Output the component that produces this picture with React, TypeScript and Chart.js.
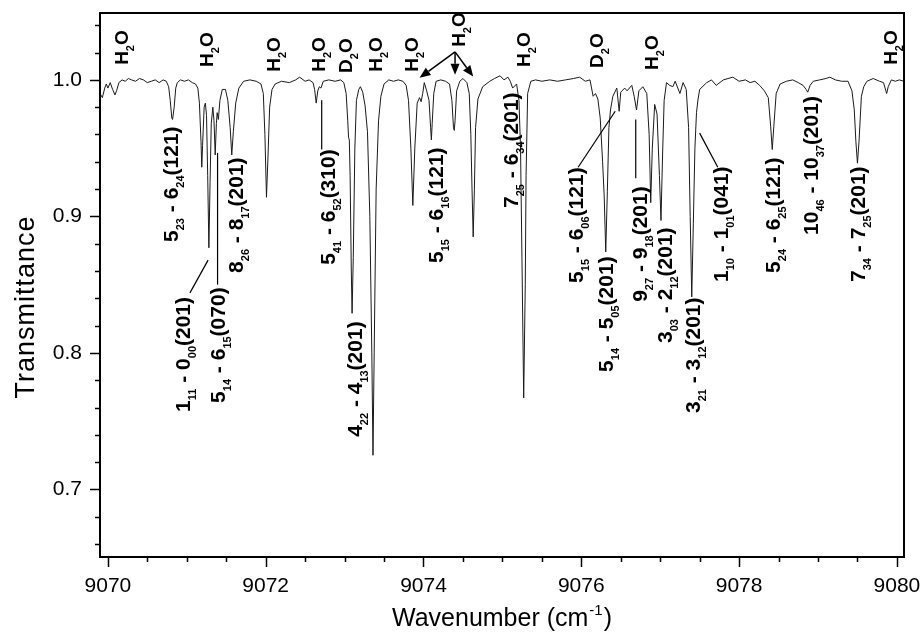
import React, { useEffect, useRef } from "react";
import { Chart, registerables } from "chart.js";

Chart.register(...registerables);

// ---------------- data ----------------
const wavenumber: number[] = [
  9069.90, 9069.93, 9069.96, 9069.98, 9070.00, 9070.03, 9070.06, 9070.09, 9070.11, 9070.14,
  9070.18, 9070.22, 9070.26, 9070.30, 9070.35, 9070.40, 9070.45, 9070.50, 9070.55, 9070.60,
  9070.65, 9070.70, 9070.74, 9070.77, 9070.79, 9070.81, 9070.82, 9070.84, 9070.86, 9070.88,
  9070.92, 9070.97, 9071.02, 9071.07, 9071.11, 9071.14, 9071.16, 9071.18, 9071.19, 9071.20,
  9071.22, 9071.235, 9071.25, 9071.265, 9071.28, 9071.295, 9071.31, 9071.33, 9071.345, 9071.36,
  9071.375, 9071.385, 9071.40, 9071.42, 9071.45, 9071.49, 9071.52, 9071.55, 9071.57, 9071.59,
  9071.62, 9071.66, 9071.72, 9071.80, 9071.88, 9071.94, 9071.97, 9071.99, 9072.01, 9072.03,
  9072.05, 9072.08, 9072.12, 9072.20, 9072.30, 9072.38, 9072.43, 9072.50, 9072.55, 9072.60,
  9072.62, 9072.64, 9072.66, 9072.68, 9072.70, 9072.73, 9072.80, 9072.88, 9072.95, 9072.99,
  9073.02, 9073.04, 9073.05, 9073.06, 9073.07, 9073.085, 9073.095, 9073.11, 9073.13, 9073.15,
  9073.18, 9073.20, 9073.23, 9073.26, 9073.29, 9073.32, 9073.345, 9073.36, 9073.375, 9073.40,
  9073.43, 9073.46, 9073.50, 9073.56, 9073.62, 9073.68, 9073.74, 9073.78, 9073.81, 9073.84,
  9073.865, 9073.89, 9073.92, 9073.95, 9073.97, 9073.99, 9074.01, 9074.04, 9074.07, 9074.09,
  9074.10, 9074.11, 9074.13, 9074.16, 9074.22, 9074.28, 9074.33, 9074.36, 9074.38, 9074.39,
  9074.40, 9074.42, 9074.46, 9074.50, 9074.55, 9074.58, 9074.60, 9074.615, 9074.63, 9074.645,
  9074.66, 9074.69, 9074.75, 9074.84, 9074.90, 9074.97, 9075.02, 9075.07, 9075.10, 9075.13,
  9075.18, 9075.21, 9075.23, 9075.25, 9075.27, 9075.29, 9075.30, 9075.32, 9075.36, 9075.42,
  9075.50, 9075.60, 9075.70, 9075.80, 9075.90, 9075.98, 9076.05, 9076.11, 9076.15, 9076.18,
  9076.21, 9076.24, 9076.27, 9076.29, 9076.31, 9076.33, 9076.35, 9076.37, 9076.40, 9076.45,
  9076.48, 9076.50, 9076.55, 9076.58, 9076.64, 9076.67, 9076.70, 9076.73, 9076.78, 9076.83,
  9076.86, 9076.88, 9076.90, 9076.93, 9076.96, 9076.99, 9077.01, 9077.03, 9077.05, 9077.08,
  9077.12, 9077.16, 9077.19, 9077.25, 9077.29, 9077.33, 9077.36, 9077.38, 9077.40, 9077.42,
  9077.44, 9077.46, 9077.48, 9077.50, 9077.59, 9077.65, 9077.71, 9077.80, 9077.92, 9078.00,
  9078.08, 9078.14, 9078.20, 9078.26, 9078.32, 9078.37, 9078.40, 9078.42, 9078.44, 9078.47,
  9078.52, 9078.60, 9078.68, 9078.75, 9078.81, 9078.85, 9078.87, 9078.90, 9078.94, 9079.02,
  9079.10, 9079.15, 9079.22, 9079.30, 9079.38, 9079.43, 9079.46, 9079.48, 9079.50, 9079.52,
  9079.55, 9079.58, 9079.62, 9079.70, 9079.78, 9079.83, 9079.86, 9079.87, 9079.89, 9079.93,
  9079.98, 9080.03, 9080.09,
];

const transmittance: number[] = [
  0.990, 0.987, 0.994, 0.997, 0.994, 0.998, 0.993, 0.989, 0.992, 0.998,
  1.000, 0.999, 1.001, 1.000, 0.999, 1.001, 1.000, 0.998, 0.999, 1.000,
  0.998, 1.000, 0.999, 0.995, 0.985, 0.972, 0.971, 0.980, 0.994, 0.998,
  1.000, 0.999, 1.000, 0.998, 0.997, 0.994, 0.983, 0.955, 0.936, 0.952,
  0.980, 0.983, 0.974, 0.930, 0.877, 0.925, 0.968, 0.980, 0.970, 0.945,
  0.968, 0.976, 0.971, 0.985, 0.993, 0.993, 0.985, 0.965, 0.945, 0.962,
  0.983, 0.994, 0.999, 1.000, 0.999, 0.997, 0.990, 0.960, 0.914, 0.945,
  0.980, 0.993, 0.997, 0.999, 0.998, 1.000, 1.002, 0.999, 1.000, 0.998,
  0.993, 0.983, 0.992, 0.995, 0.994, 0.999, 1.000, 0.999, 1.000, 0.998,
  0.990, 0.970, 0.958, 0.956, 0.930, 0.860, 0.829, 0.870, 0.950, 0.985,
  0.993, 0.995, 0.991, 0.981, 0.962, 0.900, 0.800, 0.725, 0.800, 0.920,
  0.970, 0.988, 0.997, 1.000, 0.999, 1.000, 0.999, 0.996, 0.985, 0.950,
  0.908, 0.950, 0.983, 0.987, 0.984, 0.990, 0.998, 0.992, 0.985, 0.965,
  0.956, 0.968, 0.990, 0.999, 1.000, 0.999, 0.997, 0.985, 0.965, 0.963,
  0.970, 0.992, 0.999, 1.001, 0.998, 0.990, 0.960, 0.920, 0.885, 0.920,
  0.965, 0.986, 0.995, 0.999, 1.001, 1.003, 1.000, 1.002, 0.999, 0.994,
  0.997, 0.985, 0.950, 0.860, 0.767, 0.850, 0.930, 0.990, 0.999, 1.000,
  0.999, 1.000, 0.999, 1.000, 1.001, 1.002, 0.999, 1.000, 0.988, 0.990,
  0.986, 0.972, 0.940, 0.915, 0.874, 0.918, 0.965, 0.978, 0.988, 0.994,
  0.977, 0.991, 0.994, 0.992, 0.996, 0.988, 0.978, 0.992, 0.995, 0.990,
  0.960, 0.910, 0.950, 0.982, 0.975, 0.930, 0.897, 0.945, 0.985, 0.998,
  0.996, 0.995, 0.999, 0.990, 0.998, 0.993, 0.965, 0.900, 0.841, 0.895,
  0.950, 0.976, 0.986, 0.993, 0.998, 1.000, 0.996, 1.000, 1.002, 0.999,
  1.000, 0.998, 0.999, 0.996, 0.992, 0.987, 0.966, 0.949, 0.966, 0.990,
  0.997, 0.999, 1.000, 0.998, 0.996, 0.993, 0.991, 0.996, 0.999, 1.000,
  1.001, 1.002, 1.000, 0.999, 0.999, 0.992, 0.978, 0.955, 0.939, 0.955,
  0.988, 0.995, 0.999, 1.001, 0.999, 0.998, 0.992, 0.990, 0.995, 1.000,
  0.999, 1.000, 0.999,
];

const xMajorTicks = [9070, 9072, 9074, 9076, 9078, 9080];
const xMinorTicks = [9070.5, 9071, 9071.5, 9072.5, 9073, 9073.5, 9074.5, 9075, 9075.5, 9076.5, 9077, 9077.5, 9078.5, 9079, 9079.5];
const yMajorTicks = [0.7, 0.8, 0.9, 1.0];
const yMinorTicks = [0.66, 0.68, 0.72, 0.74, 0.76, 0.78, 0.82, 0.84, 0.86, 0.88, 0.92, 0.94, 0.96, 0.98, 1.02, 1.04];
const xLimits = [9069.9, 9080.09];
const yLimits = [0.6505, 1.049];

const xTitle = "Wavenumber (cm";
const xTitleSup = "-1";
const xTitleEnd = ")";
const yTitle = "Transmittance";

// transition assignments (rotated labels); "_{..}" marks a subscript
const transitionText = [
  "5_{23} - 6_{24}(121)",
  "1_{11} - 0_{00}(201)",
  "5_{14} - 6_{15}(070)",
  "8_{26} - 8_{17}(201)",
  "5_{41} - 6_{52}(310)",
  "4_{22} - 4_{13}(201)",
  "5_{15} - 6_{16}(121)",
  "7_{25} - 6_{34}(201)",
  "5_{15} - 6_{06}(121)",
  "5_{14} - 5_{05}(201)",
  "9_{27} - 9_{18}(201)",
  "3_{03} - 2_{12}(201)",
  "3_{21} - 3_{12}(201)",
  "1_{10} - 1_{01}(041)",
  "5_{24} - 6_{25}(121)",
  "10_{46} - 10_{37}(201)",
  "7_{34} - 7_{25}(201)",
];
const transitionX = [9070.887, 9071.04, 9071.48, 9071.71, 9072.88, 9073.22, 9074.25, 9075.2, 9076.02, 9076.4, 9076.83, 9077.15, 9077.5, 9077.86, 9078.52, 9079.0, 9079.59];
const transitionY = [0.8813, 0.7568, 0.7634, 0.8586, 0.8645, 0.7385, 0.8659, 0.9062, 0.8513, 0.7861, 0.8374, 0.8073, 0.756, 0.852, 0.8586, 0.8864, 0.852];

// species labels at the top
const speciesText = ["H_{2}O", "H_{2}O", "H_{2}O", "H_{2}O", "D_{2}O", "H_{2}O", "H_{2}O", "H_{2}O", "H_{2}O", "D_{2}O", "H_{2}O", "H_{2}O"];
const speciesX = [9070.25, 9071.33, 9072.18, 9072.75, 9073.10, 9073.47, 9073.93, 9074.52, 9075.35, 9076.27, 9076.97, 9080.0];
const speciesY = [1.011, 1.0095, 1.0059, 1.0059, 1.0051, 1.0059, 1.0059, 1.0242, 1.0095, 1.0088, 1.0073, 1.011];

// pointer lines from labels to lines
const pointerFromX = [9071.04, 9071.39, 9072.71, 9075.96, 9076.69, 9077.73];
const pointerFromY = [0.844, 0.85, 0.949, 0.936, 0.928, 0.936];
const pointerToX = [9071.27, 9071.39, 9072.71, 9076.43, 9076.69, 9077.5];
const pointerToY = [0.868, 0.9465, 0.985, 0.977, 0.971, 0.961];

// arrows from the central H2O label
const arrowFromX = [9074.4, 9074.4, 9074.4];
const arrowFromY = [1.0205, 1.0205, 1.0205];
const arrowToX = [9073.95, 9074.4, 9074.63];
const arrowToY = [1.0015, 1.0037, 1.0024];

// ---------------- helpers ----------------
const FONT = 'Arial, "Liberation Sans", sans-serif';

function parseParts(text: string): [string, boolean][] {
  const out: [string, boolean][] = [];
  const re = /_\{([^}]*)\}/g;
  let last = 0;
  let m: RegExpExecArray | null;
  while ((m = re.exec(text)) !== null) {
    if (m.index > last) out.push([text.slice(last, m.index), false]);
    out.push([m[1], true]);
    last = m.index + m[0].length;
  }
  if (last < text.length) out.push([text.slice(last), false]);
  return out;
}

function drawRotated(
  ctx: CanvasRenderingContext2D,
  text: string,
  x: number,
  y: number,
  mainSize: number,
  subSize: number,
  subShift: number
) {
  ctx.save();
  ctx.translate(x, y);
  ctx.rotate(-Math.PI / 2);
  ctx.textAlign = "left";
  ctx.textBaseline = "alphabetic";
  ctx.fillStyle = "#000";
  let cx = 0;
  for (const [s, sub] of parseParts(text)) {
    ctx.font = `bold ${sub ? subSize : mainSize}px ${FONT}`;
    ctx.fillText(s, cx, sub ? subShift : 0);
    cx += ctx.measureText(s).width;
  }
  ctx.restore();
}

const isIn = (arr: number[], v: number) => arr.some((a) => Math.abs(a - v) < 1e-6);

const decorPlugin = {
  id: "decor",
  afterDraw(chart: any) {
    const ctx: CanvasRenderingContext2D = chart.ctx;
    const xs = chart.scales.x;
    const ys = chart.scales.y;
    const area = chart.chartArea;
    ctx.save();

    // frame
    ctx.strokeStyle = "#000";
    ctx.lineWidth = 2;
    ctx.strokeRect(area.left, area.top, area.right - area.left, area.bottom - area.top);

    // tick marks
    ctx.lineWidth = 1.5;
    for (const t of xs.ticks) {
      const px = Math.round(xs.getPixelForValue(t.value)) + 0.5;
      const len = isIn(xMajorTicks, t.value) ? 10 : 5;
      ctx.beginPath();
      ctx.moveTo(px, area.bottom);
      ctx.lineTo(px, area.bottom + len);
      ctx.stroke();
    }
    for (const t of ys.ticks) {
      const py = Math.round(ys.getPixelForValue(t.value)) + 0.5;
      const len = isIn(yMajorTicks, t.value) ? 10 : 5;
      ctx.beginPath();
      ctx.moveTo(area.left, py);
      ctx.lineTo(area.left - len, py);
      ctx.stroke();
    }

    // pointer lines
    ctx.lineWidth = 1.2;
    for (let i = 0; i < pointerFromX.length; i++) {
      ctx.beginPath();
      ctx.moveTo(xs.getPixelForValue(pointerFromX[i]), ys.getPixelForValue(pointerFromY[i]));
      ctx.lineTo(xs.getPixelForValue(pointerToX[i]), ys.getPixelForValue(pointerToY[i]));
      ctx.stroke();
    }

    // arrows
    ctx.fillStyle = "#000";
    for (let i = 0; i < arrowFromX.length; i++) {
      const x0 = xs.getPixelForValue(arrowFromX[i]);
      const y0 = ys.getPixelForValue(arrowFromY[i]);
      const x1 = xs.getPixelForValue(arrowToX[i]);
      const y1 = ys.getPixelForValue(arrowToY[i]);
      const ang = Math.atan2(y1 - y0, x1 - x0);
      const hl = 11;
      const hw = 4.5;
      const bx = x1 - hl * Math.cos(ang);
      const by = y1 - hl * Math.sin(ang);
      ctx.lineWidth = 1.5;
      ctx.beginPath();
      ctx.moveTo(x0, y0);
      ctx.lineTo(bx, by);
      ctx.stroke();
      ctx.beginPath();
      ctx.moveTo(x1, y1);
      ctx.lineTo(bx + hw * Math.sin(ang), by - hw * Math.cos(ang));
      ctx.lineTo(bx - hw * Math.sin(ang), by + hw * Math.cos(ang));
      ctx.closePath();
      ctx.fill();
    }

    // transition labels
    for (let i = 0; i < transitionText.length; i++) {
      drawRotated(ctx, transitionText[i], xs.getPixelForValue(transitionX[i]), ys.getPixelForValue(transitionY[i]), 21, 11, 6);
    }
    // species labels
    for (let i = 0; i < speciesText.length; i++) {
      drawRotated(ctx, speciesText[i], xs.getPixelForValue(speciesX[i]), ys.getPixelForValue(speciesY[i]), 19, 11, 6);
    }

    // axis titles
    ctx.fillStyle = "#000";
    ctx.textBaseline = "alphabetic";
    ctx.textAlign = "left";
    const mainF = `25px ${FONT}`;
    const supF = `15px ${FONT}`;
    ctx.font = mainF;
    const w1 = ctx.measureText(xTitle).width;
    const w3 = ctx.measureText(xTitleEnd).width;
    ctx.font = supF;
    const w2 = ctx.measureText(xTitleSup).width;
    const total = w1 + w2 + w3 + 2;
    let tx = (area.left + area.right) / 2 - total / 2;
    const ty = 626;
    ctx.font = mainF;
    ctx.fillText(xTitle, tx, ty);
    tx += w1 + 1;
    ctx.font = supF;
    ctx.fillText(xTitleSup, tx, ty - 11);
    tx += w2 + 1;
    ctx.font = mainF;
    ctx.fillText(xTitleEnd, tx, ty);

    ctx.save();
    ctx.translate(34, 307);
    ctx.rotate(-Math.PI / 2);
    ctx.textAlign = "center";
    ctx.font = `27px ${FONT}`;
    try {
      (ctx as any).letterSpacing = "1px";
    } catch (e) {
      /* ignore */
    }
    ctx.fillText(yTitle, 0, 0);
    ctx.restore();

    ctx.restore();
  },
};

const zeroPadding = (scale: any) => {
  scale.paddingTop = 0;
  scale.paddingBottom = 0;
  scale.paddingLeft = 0;
  scale.paddingRight = 0;
};

export default function App() {
  const canvasRef = useRef<HTMLCanvasElement | null>(null);

  useEffect(() => {
    const canvas = canvasRef.current;
    if (!canvas) return;
    const points = wavenumber.map((x, i) => ({ x, y: transmittance[i] }));
    const chart = new Chart(canvas, {
      type: "line",
      data: {
        datasets: [
          {
            data: points,
            borderColor: "#1a1a1a",
            borderWidth: 1,
            pointRadius: 0,
            tension: 0,
            fill: false,
          },
        ],
      },
      options: {
        animation: false,
        responsive: false,
        devicePixelRatio: 1,
        layout: { padding: { top: 13, right: 18, left: 0, bottom: 0 } },
        plugins: {
          legend: { display: false },
          tooltip: { enabled: false },
        },
        scales: {
          x: {
            type: "linear",
            min: xLimits[0],
            max: xLimits[1],
            grid: { display: false, drawTicks: false },
            border: { display: false },
            afterFit: (scale: any) => {
              scale.height = 77;
              zeroPadding(scale);
            },
            afterBuildTicks: (scale: any) => {
              scale.ticks = [...xMajorTicks, ...xMinorTicks].sort((a, b) => a - b).map((v) => ({ value: v }));
            },
            ticks: {
              autoSkip: false,
              maxRotation: 0,
              padding: 17,
              color: "#000",
              font: { family: FONT, size: 21 },
              callback: (v: any) => (isIn(xMajorTicks, Number(v)) ? String(Math.round(Number(v))) : ""),
            },
          },
          y: {
            type: "linear",
            min: yLimits[0],
            max: yLimits[1],
            grid: { display: false, drawTicks: false },
            border: { display: false },
            afterFit: (scale: any) => {
              scale.width = 100;
              zeroPadding(scale);
            },
            afterBuildTicks: (scale: any) => {
              scale.ticks = [...yMajorTicks, ...yMinorTicks].sort((a, b) => a - b).map((v) => ({ value: v }));
            },
            ticks: {
              autoSkip: false,
              padding: 18,
              color: "#000",
              font: { family: FONT, size: 21 },
              callback: (v: any) => (isIn(yMajorTicks, Number(v)) ? Number(v).toFixed(1) : ""),
            },
          },
        },
      },
      plugins: [decorPlugin],
    });
    return () => chart.destroy();
  }, []);

  return (
    <div style={{ position: "fixed", left: 0, top: 0, width: 922, height: 634, background: "#fff" }}>
      <canvas ref={canvasRef} width={922} height={634} style={{ width: 922, height: 634, display: "block" }} />
    </div>
  );
}
